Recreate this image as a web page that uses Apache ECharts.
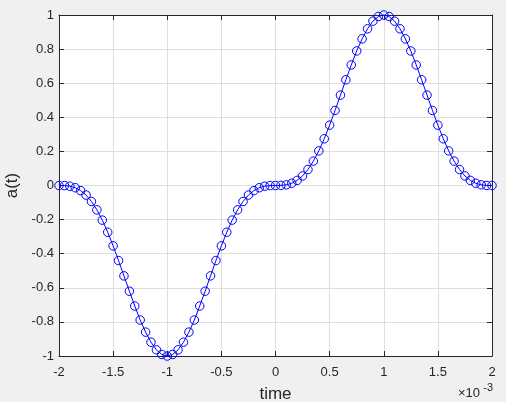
<!DOCTYPE html>
<html>
<head>
<meta charset="utf-8">
<script src="https://cdn.jsdelivr.net/npm/echarts@6/dist/echarts.min.js"></script>
<style>
  html, body { margin: 0; padding: 0; background: #f0f0f0; }
  #chart { width: 506px; height: 402px; }
</style>
</head>
<body>
<div id="chart"></div>
<script>
// time in units of 1e-3 (axis multiplier shown as x10^-3)
const timeMs = [
  -2.00, -1.95, -1.90, -1.85, -1.80, -1.75, -1.70, -1.65, -1.60, -1.55,
  -1.50, -1.45, -1.40, -1.35, -1.30, -1.25, -1.20, -1.15, -1.10, -1.05,
  -1.00, -0.95, -0.90, -0.85, -0.80, -0.75, -0.70, -0.65, -0.60, -0.55,
  -0.50, -0.45, -0.40, -0.35, -0.30, -0.25, -0.20, -0.15, -0.10, -0.05,
   0.00,  0.05,  0.10,  0.15,  0.20,  0.25,  0.30,  0.35,  0.40,  0.45,
   0.50,  0.55,  0.60,  0.65,  0.70,  0.75,  0.80,  0.85,  0.90,  0.95,
   1.00,  1.05,  1.10,  1.15,  1.20,  1.25,  1.30,  1.35,  1.40,  1.45,
   1.50,  1.55,  1.60,  1.65,  1.70,  1.75,  1.80,  1.85,  1.90,  1.95,
   2.00
];
const amplitude = [
   0, -0.0005, -0.004, -0.013, -0.030, -0.056, -0.094, -0.143, -0.203, -0.274,
  -0.354, -0.440, -0.530, -0.620, -0.707, -0.789, -0.860, -0.919, -0.964, -0.991,
  -1.000, -0.991, -0.964, -0.919, -0.860, -0.789, -0.707, -0.620, -0.530, -0.440,
  -0.354, -0.274, -0.203, -0.143, -0.094, -0.056, -0.030, -0.013, -0.004, -0.0005,
   0,  0.0005, 0.004, 0.013, 0.030, 0.056, 0.094, 0.143, 0.203, 0.274,
   0.354, 0.440, 0.530, 0.620, 0.707, 0.789, 0.860, 0.919, 0.964, 0.991,
   1.000, 0.991, 0.964, 0.919, 0.860, 0.789, 0.707, 0.620, 0.530, 0.440,
   0.354, 0.274, 0.203, 0.143, 0.094, 0.056, 0.030, 0.013, 0.004, 0.0005,
   0
];
const xTicks = [-2, -1.5, -1, -0.5, 0, 0.5, 1, 1.5, 2];
const yTicks = [-1, -0.8, -0.6, -0.4, -0.2, 0, 0.2, 0.4, 0.6, 0.8, 1];
const xLabel = 'time';
const yLabel = 'a(t)';
const xMultiplierBase = '\u00d710';
const xMultiplierExp = '-3';

const FONT = "'Liberation Sans', Arial, Helvetica, sans-serif";
const AX = '#262626';
const GRIDC = '#dedede';

const chart = echarts.init(document.getElementById('chart'), null, { renderer: 'canvas' });

const xMin = xTicks[0], xMax = xTicks[xTicks.length - 1], xInt = xTicks[1] - xTicks[0];
const yMin = yTicks[0], yMax = yTicks[yTicks.length - 1];
const yInt = Math.round((yTicks[1] - yTicks[0]) * 1000) / 1000;

function fmt(v) { return String(Math.round(v * 1000) / 1000); }

const commonAxis = {
  type: 'value',
  axisLine: { show: true, onZero: false, lineStyle: { color: AX, width: 1 } },
  axisTick: { show: true, inside: true, length: 5, lineStyle: { color: AX, width: 1 } },
};

const option = {
  backgroundColor: '#f0f0f0',
  animation: false,
  grid: {
    left: 59, right: 14, top: 15, bottom: 46,
    show: true, backgroundColor: '#ffffff', borderWidth: 0,
    containLabel: false, outerBoundsMode: 'none'
  },
  xAxis: [
    Object.assign({}, commonAxis, {
      position: 'bottom', min: xMin, max: xMax, interval: xInt,
      name: xLabel, nameLocation: 'middle', nameGap: 30,
      nameTextStyle: { color: AX, fontSize: 17, fontFamily: FONT },
      axisLabel: { show: true, color: AX, fontSize: 13, fontFamily: FONT, margin: 10,
        formatter: fmt, showMinLabel: true, showMaxLabel: true, hideOverlap: false },
      splitLine: { show: true, lineStyle: { color: GRIDC, width: 1 } }
    }),
    Object.assign({}, commonAxis, {
      position: 'top', min: xMin, max: xMax, interval: xInt,
      axisLabel: { show: false }, splitLine: { show: false }
    })
  ],
  yAxis: [
    Object.assign({}, commonAxis, {
      position: 'left', min: yMin, max: yMax, interval: yInt,
      name: yLabel, nameLocation: 'middle', nameGap: 27, nameRotate: 90,
      nameTextStyle: { color: AX, fontSize: 17, fontFamily: FONT },
      axisLabel: { show: true, color: AX, fontSize: 13, fontFamily: FONT, margin: 5,
        formatter: fmt, showMinLabel: true, showMaxLabel: true, hideOverlap: false },
      splitLine: { show: true, lineStyle: { color: GRIDC, width: 1 } }
    }),
    Object.assign({}, commonAxis, {
      position: 'right', min: yMin, max: yMax, interval: yInt,
      axisLabel: { show: false }, splitLine: { show: false }
    })
  ],
  series: [{
    type: 'line',
    xAxisIndex: 0, yAxisIndex: 0,
    data: timeMs.map((t, i) => [t, amplitude[i]]),
    symbol: 'circle',
    symbolSize: 8.5,
    showSymbol: true,
    showAllSymbol: true,
    silent: true,
    clip: false,
    lineStyle: { color: '#0000ff', width: 1 },
    itemStyle: { color: 'rgba(0,0,0,0)', borderColor: '#0000ff', borderWidth: 1 },
    emphasis: { disabled: true }
  }],
  graphic: [
    { type: 'text', right: 26, top: 387,
      style: { text: xMultiplierBase, fill: AX, font: '13px ' + FONT } },
    { type: 'text', right: 13, top: 382,
      style: { text: xMultiplierExp, fill: AX, font: '11px ' + FONT } }
  ]
};
chart.setOption(option);
</script>
</body>
</html>
